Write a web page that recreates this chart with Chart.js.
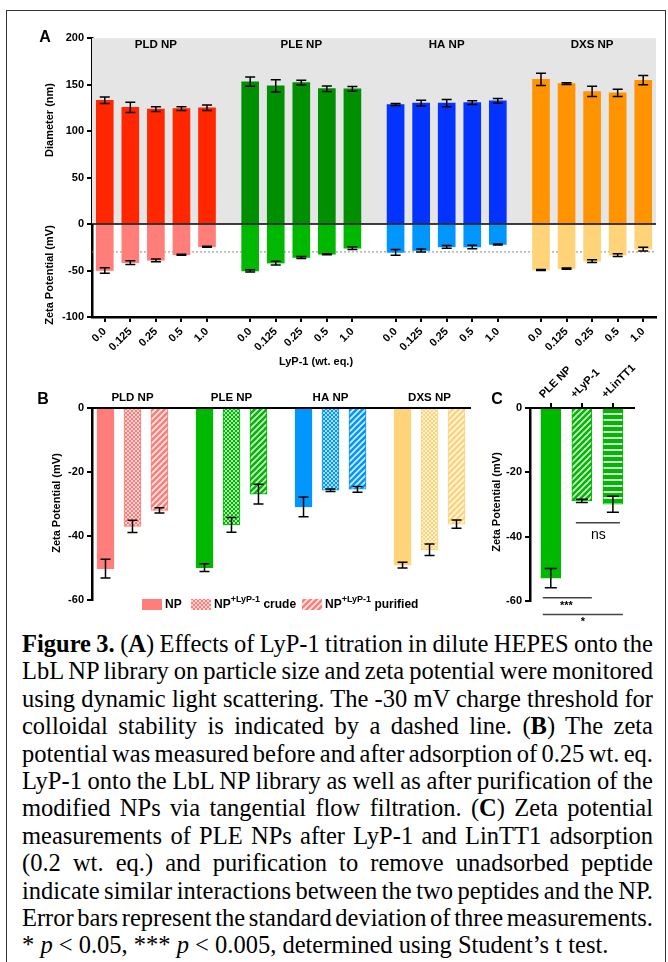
<!DOCTYPE html>
<html lang="en">
<head>
<meta charset="UTF-8">
<title>Figure 3 - LyP-1 titration</title>
<script src="https://cdn.jsdelivr.net/npm/chart.js"></script>
<style>
  body { margin: 0; background: #fff; width: 668px; height: 962px; position: relative; overflow: hidden; }
  .frame { position: absolute; left: 6px; top: 10px; width: 658px; height: 990px; border: 1.5px solid #333; }
  canvas { position: absolute; }
  #chartA { left: 0; top: 20px; }
  #chartB { left: 0; top: 385px; }
  #chartC { left: 480px; top: 350px; }
  .caption { position: absolute; left: 22px; top: 630px; width: 631px;
             font-family: "Liberation Serif", "Times New Roman", serif; font-size: 24.5px;
             line-height: 27.4px; color: #000; }
  .caption div { white-space: nowrap; width: max-content; }
</style>
</head>
<body>
<div class="frame"></div>
<canvas id="chartA" width="668" height="360"></canvas>
<canvas id="chartB" width="480" height="232"></canvas>
<canvas id="chartC" width="188" height="280"></canvas>

<div class="caption">
  <div><b>Figure 3.</b> (<b>A</b>) Effects of LyP-1 titration in dilute HEPES onto the</div>
  <div>LbL NP library on particle size and zeta potential were monitored</div>
  <div>using dynamic light scattering. The -30 mV charge threshold for</div>
  <div>colloidal stability is indicated by a dashed line. (<b>B</b>) The zeta</div>
  <div>potential was measured before and after adsorption of 0.25 wt. eq.</div>
  <div>LyP-1 onto the LbL NP library as well as after purification of the</div>
  <div>modified NPs via tangential flow filtration. (<b>C</b>) Zeta potential</div>
  <div>measurements of PLE NPs after LyP-1 and LinTT1 adsorption</div>
  <div>(0.2 wt. eq.) and purification to remove unadsorbed peptide</div>
  <div>indicate similar interactions between the two peptides and the NP.</div>
  <div>Error bars represent the standard deviation of three measurements.</div>
  <div class="last">* <i>p</i> &lt; 0.05, *** <i>p</i> &lt; 0.005, determined using Student’s t test.</div>
</div>

<script>
// ---- data ----
const groups = ['PLD NP', 'PLE NP', 'HA NP', 'DXS NP'];
const lypLevels = ['0.0', '0.125', '0.25', '0.5', '1.0'];

// panel A: diameter (nm) and zeta potential (mV) per group, per LyP-1 level
const diameter = [
  [133, 125.5, 123.5, 124, 125],
  [153, 148.5, 152, 145.5, 145.3],
  [128.5, 130, 130, 130.6, 132.4],
  [155.5, 151, 142.5, 141, 154.6]
];
const diameterErr = [
  [3.5, 5.5, 2.5, 2, 3],
  [5, 6.5, 2.5, 3, 2.5],
  [1, 3, 4, 2, 2.5],
  [6.5, 1, 5.5, 4, 5]
];
const zetaA = [
  [-50, -41.5, -39, -33, -24.5],
  [-50.5, -42, -36, -32.5, -26],
  [-30.5, -28.5, -24.5, -24.7, -22],
  [-49.4, -48, -40, -33.5, -27]
];
const zetaAErr = [
  [3, 2, 1.5, 0.6, 0.6],
  [1.2, 2, 1, 0.6, 1.5],
  [3, 1.5, 1.5, 1.8, 0.5],
  [0.6, 0.7, 1.5, 1.5, 2]
];
const threshold = -30;

// panel B: zeta potential before / after LyP-1 (0.25 wt. eq.)
const zetaNP = [-50.2, -49.9, -30.9, -49.1];
const zetaNPErr = [2.9, 1.2, 3.1, 0.9];
const zetaCrude = [-37, -36.5, -25.7, -44.3];
const zetaCrudeErr = [1.9, 2.3, 0.4, 1.8];
const zetaPurified = [-32, -26.9, -25.4, -36.3];
const zetaPurifiedErr = [0.8, 3.1, 0.9, 1.3];

// panel C: PLE NP with peptides
const labelsC = ['PLE NP', '+LyP-1', '+LinTT1'];
const zetaC = [-52.9, -28.9, -29.9];
const zetaCErr = [3, 0.5, 2.5];

const darkColors = ['#ff2600', '#008f00', '#0433ff', '#ff9300'];
const lightColors = ['#ff7e79', '#00b800', '#0096ff', '#ffd479'];

// justify caption lines to the column width (stretch or squeeze word gaps)
document.querySelectorAll('.caption div:not(.last)').forEach(d => {
  const w = d.getBoundingClientRect().width;
  const n = (d.textContent.match(/ /g) || []).length;
  d.style.wordSpacing = ((631 - w) / n) + 'px';
});

// ---- setup ----
Chart.defaults.font.family = '"Liberation Sans", Arial, sans-serif';
Chart.defaults.font.size = 11;
Chart.defaults.font.weight = 'bold';
Chart.defaults.color = '#000';
Chart.defaults.animation = false;
Chart.defaults.plugins.legend.display = false;
Chart.defaults.plugins.tooltip.enabled = false;

const FONT = '"Liberation Sans", Arial, sans-serif';

function makePattern(color, type) {
  const c = document.createElement('canvas');
  const s = type === 'crude' ? 4 : 6;
  c.width = s; c.height = s;
  const p = c.getContext('2d');
  p.fillStyle = color;
  p.fillRect(0, 0, s, s);
  p.strokeStyle = 'rgba(255,255,255,0.85)';
  p.beginPath();
  if (type === 'diag') {
    p.lineWidth = 1.6;
    p.moveTo(0, s); p.lineTo(s, 0);
    p.moveTo(-1, 1); p.lineTo(1, -1);
    p.moveTo(s - 1, s + 1); p.lineTo(s + 1, s - 1);
  } else if (type === 'horiz') {
    p.lineWidth = 2;
    p.moveTo(0, 4); p.lineTo(s, 4);
  } else {
    p.lineWidth = 0.8;
    p.moveTo(0, 0); p.lineTo(s, s);
    p.moveTo(0, s); p.lineTo(s, 0);
  }
  p.stroke();
  return document.createElement('canvas').getContext('2d').createPattern(c, 'repeat');
}

function yAxis(min, max, step, width) {
  return {
    min: min, max: max,
    ticks: { stepSize: step, padding: 3 },
    grid: { drawOnChartArea: false, tickLength: 5, color: '#000', lineWidth: 2 },
    border: { color: '#000', width: 2.5 },
    afterFit: s => { s.width = width; }
  };
}

// error bars drawn from dataset.errors through the y scale
const errorBars = {
  id: 'errorBars',
  afterDatasetsDraw(chart) {
    const ctx = chart.ctx;
    const y = chart.scales.y;
    chart.data.datasets.forEach((ds, di) => {
      if (!ds.errors) return;
      const w = ds.capWidth || 5;
      chart.getDatasetMeta(di).data.forEach((bar, i) => {
        const v = ds.data[i].y, e = ds.errors[i];
        const t = y.getPixelForValue(v + e), b = y.getPixelForValue(v - e);
        ctx.save();
        ctx.strokeStyle = ds.errColor || '#000';
        ctx.lineWidth = 1.5;
        ctx.beginPath();
        ctx.moveTo(bar.x, t); ctx.lineTo(bar.x, b);
        ctx.moveTo(bar.x - w, t); ctx.lineTo(bar.x + w, t);
        ctx.moveTo(bar.x - w, b); ctx.lineTo(bar.x + w, b);
        ctx.stroke();
        ctx.restore();
      });
    });
  }
};

function text(ctx, str, x, y, size, align, rot, weight) {
  ctx.save();
  ctx.font = (weight || 'bold') + ' ' + size + 'px ' + FONT;
  ctx.fillStyle = '#000';
  ctx.textAlign = align || 'center';
  ctx.textBaseline = 'middle';
  ctx.translate(x, y);
  if (rot) ctx.rotate(rot);
  ctx.fillText(str, 0, 0);
  ctx.restore();
}

// ---- panel A ----
const GAP_A = 5.69;
const posA = [];
groups.forEach((g, gi) => lypLevels.forEach((l, li) => posA.push(gi * GAP_A + li)));
const tickLabelsA = posA.map((p, k) => lypLevels[k % 5]);
const groupOfA = posA.map((p, k) => Math.floor(k / 5));

const panelA = {
  id: 'panelA',
  beforeDatasetsDraw(chart) {
    const { ctx, chartArea: a, scales: { y } } = chart;
    ctx.save();
    ctx.fillStyle = '#e5e5e5';
    const t = y.getPixelForValue(200), z = y.getPixelForValue(0);
    ctx.fillRect(a.left, t, a.right - a.left, z - t);
    ctx.strokeStyle = '#8a8a8a';
    ctx.lineWidth = 1;
    ctx.setLineDash([2, 2]);
    const yt = y.getPixelForValue(threshold);
    ctx.beginPath(); ctx.moveTo(a.left, yt); ctx.lineTo(a.right, yt); ctx.stroke();
    ctx.restore();
  },
  afterDatasetsDraw(chart) {
    const { ctx, chartArea: a, scales: { y } } = chart;
    const z = y.getPixelForValue(0);
    ctx.save();
    ctx.strokeStyle = '#000'; ctx.lineWidth = 1.5;
    ctx.beginPath(); ctx.moveTo(a.left, z); ctx.lineTo(a.right, z); ctx.stroke();
    ctx.restore();
  },
  afterDraw(chart) {
    const { ctx, scales: { x, y } } = chart;
    groups.forEach((g, gi) => text(ctx, g, x.getPixelForValue(gi * GAP_A + 2), 25, 11.5));
    text(ctx, 'Diameter (nm)', 50, 100, 11, 'center', -Math.PI / 2);
    text(ctx, 'Zeta Potential (mV)', 50, 255, 11, 'center', -Math.PI / 2);
    text(ctx, 'LyP-1 (wt. eq.)', 316, 342, 11);
    text(ctx, 'A', 45, 18, 16);
  }
};

new Chart(document.getElementById('chartA'), {
  type: 'bar',
  data: {
    datasets: [
      {
        data: posA.map((p, k) => ({ x: p, y: diameter[groupOfA[k]][k % 5] })),
        errors: posA.map((p, k) => diameterErr[groupOfA[k]][k % 5]),
        backgroundColor: groupOfA.map(g => darkColors[g]),
        barThickness: 17, grouped: false, capWidth: 5
      },
      {
        data: posA.map((p, k) => ({ x: p, y: zetaA[groupOfA[k]][k % 5] })),
        errors: posA.map((p, k) => zetaAErr[groupOfA[k]][k % 5]),
        backgroundColor: groupOfA.map(g => lightColors[g]),
        barThickness: 17, grouped: false, capWidth: 5
      }
    ]
  },
  options: {
    responsive: false,
    layout: { padding: { left: 0, top: 18, right: 12, bottom: 0 } },
    scales: {
      x: {
        type: 'linear', offset: false,
        min: -0.5, max: posA[posA.length - 1] + 0.5,
        afterBuildTicks: axis => { axis.ticks = posA.map(v => ({ value: v })); },
        afterFit: s => { s.height = 63; },
        ticks: { autoSkip: false, minRotation: 45, maxRotation: 45, padding: 3,
                 callback: (v, i) => tickLabelsA[i] },
        grid: { offset: false, drawOnChartArea: false, tickLength: 5, color: '#000', lineWidth: 2 },
        border: { color: '#000', width: 2.5 }
      },
      y: yAxis(-100, 200, 50, 92)
    }
  },
  plugins: [errorBars, panelA]
});

// ---- panel B ----
const GAP_B = 3.67;
const posB = [];
groups.forEach((g, gi) => [0, 1, 2].forEach(j => posB.push(gi * GAP_B + j)));
const groupOfB = posB.map((p, k) => Math.floor(k / 3));

const panelB = {
  id: 'panelB',
  afterDraw(chart) {
    const { ctx, scales: { x } } = chart;
    groups.forEach((g, gi) => text(ctx, g, x.getPixelForValue(gi * GAP_B + 1), 13, 11.5));
    text(ctx, 'Zeta Potential (mV)', 57, 118, 11, 'center', -Math.PI / 2);
    text(ctx, 'B', 43, 15, 16);
    // legend
    const items = [
      { x: 142, fill: lightColors[0], label: ['NP'] },
      { x: 191, fill: makePattern(lightColors[0], 'crude'), label: ['NP', '+LyP-1', ' crude'] },
      { x: 302, fill: makePattern(lightColors[0], 'diag'), label: ['NP', '+LyP-1', ' purified'] }
    ];
    const ly = 219;
    items.forEach(it => {
      ctx.save();
      ctx.fillStyle = it.fill;
      ctx.fillRect(it.x, ly - 5, 20, 11);
      let tx = it.x + 23;
      it.label.forEach((part, pi) => {
        const sup = pi === 1;
        ctx.font = 'bold ' + (sup ? 9 : 12) + 'px ' + FONT;
        ctx.fillStyle = '#000';
        ctx.textAlign = 'left';
        ctx.textBaseline = 'middle';
        ctx.fillText(part, tx, sup ? ly - 4 : ly + 1);
        tx += ctx.measureText(part).width;
      });
      ctx.restore();
    });
  }
};

const bFills = posB.map((p, k) => {
  const c = lightColors[groupOfB[k]];
  const j = k % 3;
  return j === 0 ? c : makePattern(c, j === 1 ? 'crude' : 'diag');
});
const bValues = posB.map((p, k) => [zetaNP, zetaCrude, zetaPurified][k % 3][groupOfB[k]]);
const bErrors = posB.map((p, k) => [zetaNPErr, zetaCrudeErr, zetaPurifiedErr][k % 3][groupOfB[k]]);

new Chart(document.getElementById('chartB'), {
  type: 'bar',
  data: {
    datasets: [{
      data: posB.map((p, k) => ({ x: p, y: bValues[k] })),
      errors: bErrors,
      backgroundColor: bFills,
      borderColor: posB.map((p, k) => lightColors[groupOfB[k]]),
      borderWidth: 1,
      barThickness: 17, capWidth: 5
    }]
  },
  options: {
    responsive: false,
    layout: { padding: { left: 0, top: 23, right: 10, bottom: 17 } },
    scales: {
      x: {
        type: 'linear', position: 'top', offset: false,
        min: -0.5, max: posB[posB.length - 1] + 0.5,
        ticks: { display: false },
        grid: { display: false, offset: false },
        border: { color: '#000', width: 2 },
        afterFit: s => { s.height = 0; }
      },
      y: yAxis(-60, 0, 20, 92)
    }
  },
  plugins: [errorBars, panelB]
});

// ---- panel C ----
const panelC = {
  id: 'panelC',
  afterDraw(chart) {
    const { ctx, scales: { x, y } } = chart;
    text(ctx, 'Zeta Potential (mV)', 17, 152, 11, 'center', -Math.PI / 2);
    text(ctx, 'C', 17, 50, 16);
    const line = (x1, x2, v) => {
      ctx.save();
      ctx.strokeStyle = '#444'; ctx.lineWidth = 1.5;
      ctx.beginPath();
      ctx.moveTo(x1, y.getPixelForValue(v)); ctx.lineTo(x2, y.getPixelForValue(v));
      ctx.stroke(); ctx.restore();
    };
    line(x.getPixelForValue(1) - 6, x.getPixelForValue(2) + 7, -35.7);
    text(ctx, 'ns', (x.getPixelForValue(1) + x.getPixelForValue(2)) / 2 + 1, y.getPixelForValue(-39.4), 14, 'center', 0, 'normal');
    line(x.getPixelForValue(0) - 8, x.getPixelForValue(1) + 10, -59);
    text(ctx, '***', (x.getPixelForValue(0) + x.getPixelForValue(1)) / 2, y.getPixelForValue(-61.4), 11);
    line(x.getPixelForValue(0) - 8, x.getPixelForValue(2) + 10, -64.2);
    text(ctx, '*', (x.getPixelForValue(0) + x.getPixelForValue(2)) / 2 + 1, y.getPixelForValue(-66.6), 11);
  }
};

new Chart(document.getElementById('chartC'), {
  type: 'bar',
  data: {
    datasets: [{
      data: zetaC.map((v, i) => ({ x: i, y: v })),
      errors: zetaCErr,
      backgroundColor: [lightColors[1], makePattern(lightColors[1], 'diag'), makePattern(lightColors[1], 'horiz')],
      borderColor: lightColors[1],
      borderWidth: 1,
      barThickness: 20, capWidth: 6
    }]
  },
  options: {
    responsive: false,
    layout: { padding: { left: 0, top: 0, right: 34, bottom: 29 } },
    scales: {
      x: {
        type: 'linear', position: 'top', offset: false,
        min: -0.67, max: 2.68,
        afterBuildTicks: axis => { axis.ticks = labelsC.map((l, i) => ({ value: i })); },
        afterFit: s => { s.height = 58; },
        ticks: { autoSkip: false, minRotation: 45, maxRotation: 45, padding: 2,
                 callback: (v, i) => labelsC[i] },
        grid: { offset: false, drawOnChartArea: false, tickLength: 5, color: '#000', lineWidth: 2 },
        border: { color: '#000', width: 2 }
      },
      y: yAxis(-60, 0, 20, 50)
    }
  },
  plugins: [errorBars, panelC]
});
</script>
</body>
</html>
